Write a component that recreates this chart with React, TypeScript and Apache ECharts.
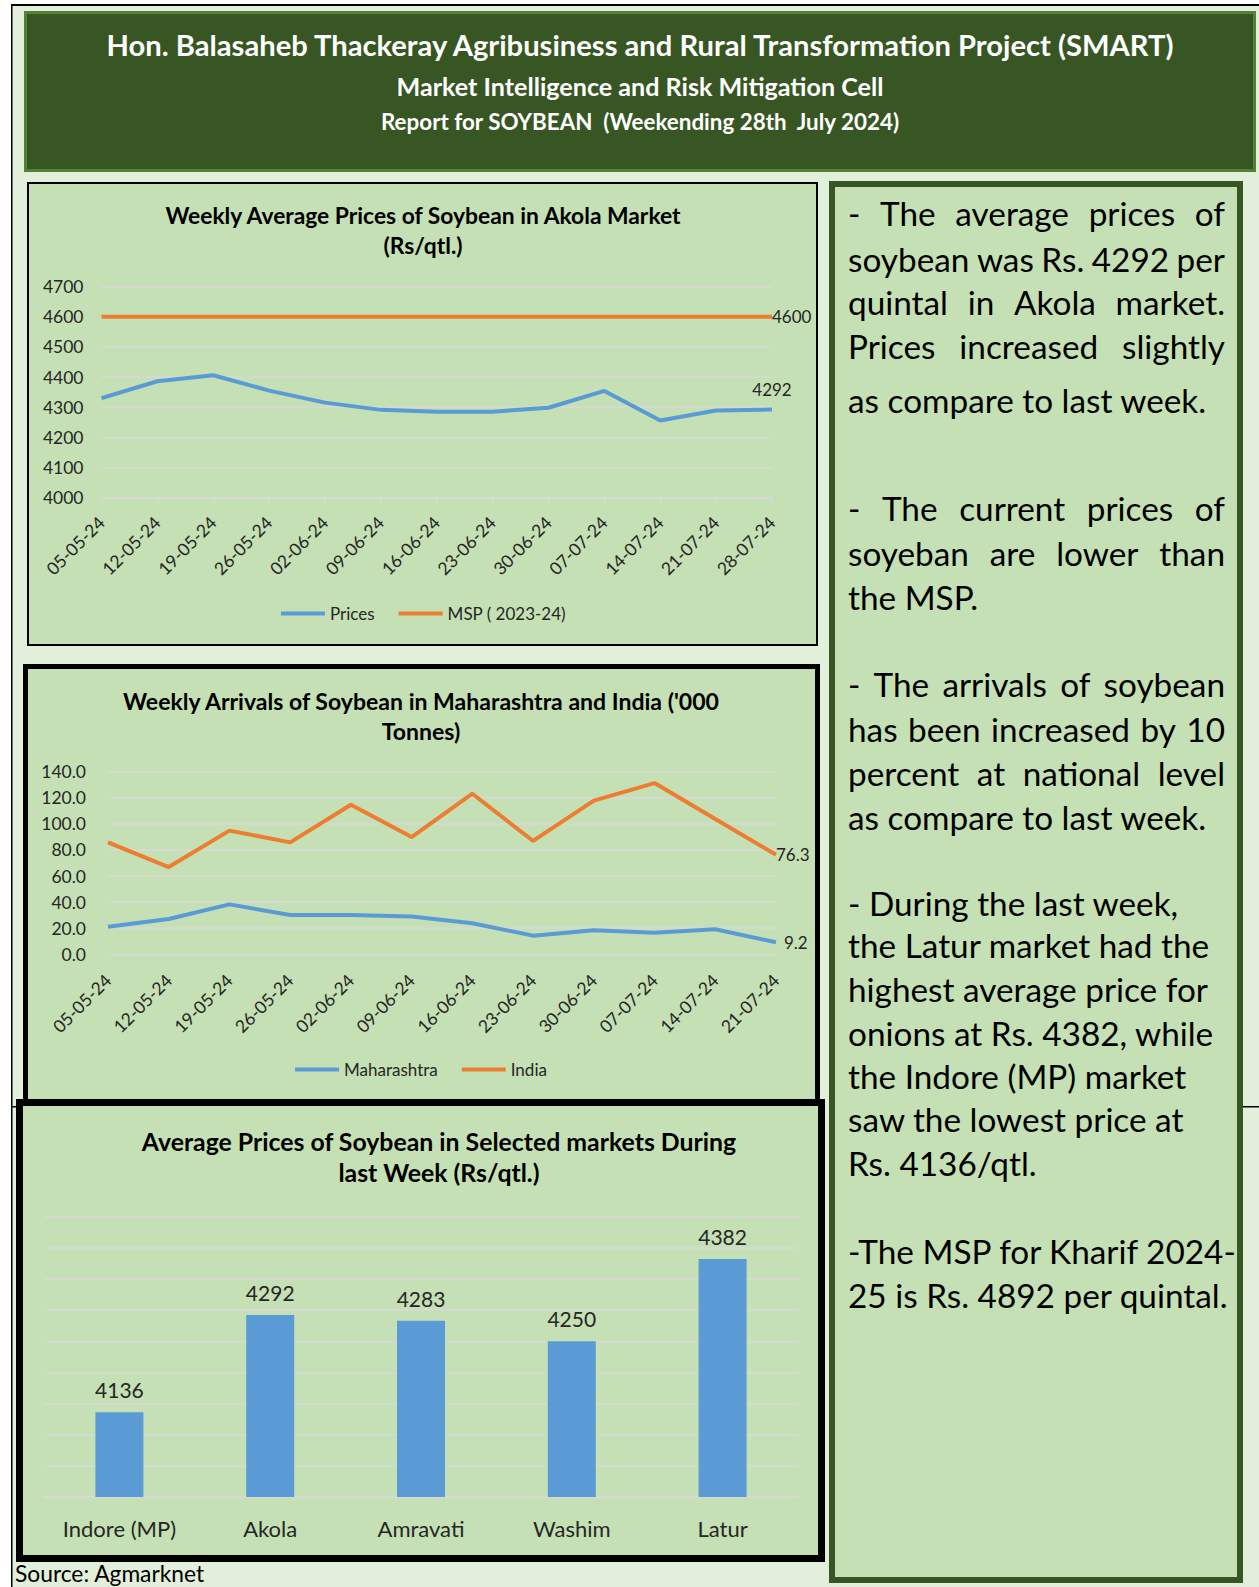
import React, { useEffect, useRef } from "react";
import * as echarts from "echarts";

// ---------- DATA ----------
const priceWeeks = ["05-05-24", "12-05-24", "19-05-24", "26-05-24", "02-06-24", "09-06-24", "16-06-24", "23-06-24", "30-06-24", "07-07-24", "14-07-24", "21-07-24", "28-07-24"];
const akolaPrices = [4330, 4386, 4406, 4355, 4315, 4291, 4285, 4285, 4298, 4354, 4256, 4289, 4292];
const mspPrices = [4600, 4600, 4600, 4600, 4600, 4600, 4600, 4600, 4600, 4600, 4600, 4600, 4600];

const arrivalWeeks = ["05-05-24", "12-05-24", "19-05-24", "26-05-24", "02-06-24", "09-06-24", "16-06-24", "23-06-24", "30-06-24", "07-07-24", "14-07-24", "21-07-24"];
const maharashtraArrivals = [21.2, 27.1, 38.3, 30.1, 30.1, 28.9, 23.8, 14.3, 18.4, 16.6, 19.2, 9.2];
const indiaArrivals = [85.8, 66.9, 94.8, 85.8, 114.7, 89.9, 123.1, 86.9, 117.8, 131.3, 103.7, 76.3];

const markets = ["Indore (MP)", "Akola", "Amravati", "Washim", "Latur"];
const marketPrices = [4136, 4292, 4283, 4250, 4382];

const headerLines = [
  "Hon. Balasaheb Thackeray Agribusiness and Rural Transformation Project (SMART)",
  "Market Intelligence and Risk Mitigation Cell",
  "Report for SOYBEAN  (Weekending 28th  July 2024)",
];
const chart1Title = ["Weekly Average Prices of Soybean in Akola Market", "(Rs/qtl.)"];
const chart2Title = ["Weekly Arrivals of Soybean in Maharashtra and India ('000", "Tonnes)"];
const chart3Title = ["Average Prices of Soybean in Selected markets During", "last Week (Rs/qtl.)"];
const noteParagraphs = [
  ["- The average prices of", "soybean was Rs. 4292 per", "quintal in Akola market.", "Prices increased slightly", "as compare to last week."],
  ["- The current prices of", "soyeban are lower than", "the MSP."],
  ["- The arrivals of soybean", "has been increased by 10", "percent at national level", "as compare to last week."],
  ["- During the last week,", "the Latur market had the", "highest average price for", "onions at Rs. 4382, while", "the Indore (MP) market", "saw the lowest price at", "Rs. 4136/qtl."],
  ["-The MSP for Kharif 2024-", "25 is Rs. 4892 per quintal."],
];
const sourceText = "Source: Agmarknet";

// ---------- LAYOUT / STYLE ----------
const FONT = "Lato";
const BLUE = "#5b9bd5";
const ORANGE = "#ed7d31";
const PANEL = "#c5e0b4";
const PAGE = "#e2efda";
const DARK = "#375623";
const GRID = "#d9d9d9";
const LABEL = "#262626";

const noteJustify = [true, true, true, false, false];
const noteLineY = [
  [213, 258.5, 302, 345.5, 399.5],
  [507.5, 553, 596.5],
  [683.5, 728.5, 773, 816.5],
  [902.5, 945, 989, 1033, 1076, 1119, 1163],
  [1251, 1295],
];

let measureCtx: CanvasRenderingContext2D | null = null;
function textWidth(t: string, size: number, weight = "normal") {
  if (!measureCtx) measureCtx = document.createElement("canvas").getContext("2d");
  measureCtx!.font = `${weight} ${size}px ${FONT}`;
  return measureCtx!.measureText(t).width;
}
function fitSize(t: string, target: number, weight = "normal") {
  return (target / textWidth(t, 100, weight)) * 100;
}

function txt(text: string, x: number, y: number, size: number, opts: any = {}) {
  return {
    type: "text",
    x,
    y,
    z: 100,
    silent: true,
    style: {
      text,
      fill: opts.fill || "#000",
      fontSize: size,
      fontFamily: FONT,
      fontWeight: opts.weight || "normal",
      align: opts.align || "left",
      textAlign: opts.align || "left",
      verticalAlign: "middle",
      textVerticalAlign: "middle",
    },
  };
}

function buildGraphics() {
  const g: any[] = [];
  // page
  g.push({ type: "rect", z: -20, silent: true, shape: { x: 12, y: 6, width: 1247, height: 1581 }, style: { fill: PAGE } });
  g.push({ type: "rect", z: -19, silent: true, shape: { x: 11, y: 4, width: 1248, height: 2 }, style: { fill: "#000" } });
  g.push({ type: "rect", z: -19, silent: true, shape: { x: 11, y: 4, width: 1.5, height: 1583 }, style: { fill: "#000" } });
  g.push({ type: "rect", z: -19, silent: true, shape: { x: 11, y: 1106, width: 8, height: 1.5 }, style: { fill: "#000" } });
  g.push({ type: "rect", z: -19, silent: true, shape: { x: 1240, y: 1106, width: 19, height: 1.5 }, style: { fill: "#000" } });

  // header
  g.push({ type: "rect", z: -10, silent: true, shape: { x: 25.5, y: 12.5, width: 1229, height: 158 }, style: { fill: DARK, stroke: "#548235", lineWidth: 3 } });
  const hW = [1071, 487, 520];
  const hY = [44, 86, 121];
  headerLines.forEach((l, i) => {
    g.push(txt(l, 640, hY[i], fitSize(l, hW[i], "bold"), { weight: "bold", fill: "#fff", align: "center" }));
  });

  // chart panels
  g.push({ type: "rect", z: -10, silent: true, shape: { x: 28, y: 183, width: 789, height: 462 }, style: { fill: PANEL, stroke: "#000", lineWidth: 2 } });
  g.push({ type: "rect", z: -10, silent: true, shape: { x: 25.5, y: 666.5, width: 792, height: 435 }, style: { fill: PANEL, stroke: "#000", lineWidth: 5 } });
  g.push({ type: "rect", z: -9, silent: true, shape: { x: 19.5, y: 1102.5, width: 802, height: 456 }, style: { fill: PANEL, stroke: "#000", lineWidth: 7 } });

  // titles
  const t1 = fitSize(chart1Title[0], 518, "bold");
  g.push(txt(chart1Title[0], 423, 215, t1, { weight: "bold", align: "center" }));
  g.push(txt(chart1Title[1], 423, 245, t1, { weight: "bold", align: "center" }));
  const t2 = fitSize(chart2Title[0], 598, "bold");
  g.push(txt(chart2Title[0], 421, 701, t2, { weight: "bold", align: "center" }));
  g.push(txt(chart2Title[1], 421, 731, t2, { weight: "bold", align: "center" }));
  const t3 = fitSize(chart3Title[0], 595, "bold");
  g.push(txt(chart3Title[0], 439, 1141, t3, { weight: "bold", align: "center" }));
  g.push(txt(chart3Title[1], 439, 1172, t3, { weight: "bold", align: "center" }));

  // source
  g.push(txt(sourceText, 15, 1573, fitSize(sourceText, 190)));

  // notes box
  g.push({ type: "rect", z: -10, silent: true, shape: { x: 832, y: 184, width: 408, height: 1396 }, style: { fill: PANEL, stroke: DARK, lineWidth: 6 } });
  const ns = fitSize("the Latur market had the", 362);
  const L = 848;
  const R = 1225;
  noteParagraphs.forEach((para, pi) => {
    para.forEach((line, li) => {
      const y = noteLineY[pi][li];
      const justify = noteJustify[pi] && li < para.length - 1;
      if (!justify) {
        g.push(txt(line, L, y, ns));
      } else {
        const words = line.split(/\s+/);
        const widths = words.map((w) => textWidth(w, ns));
        const total = widths.reduce((a, b) => a + b, 0);
        const gap = (R - L - total) / (words.length - 1);
        let x = L;
        words.forEach((w, wi) => {
          g.push(txt(w, x, y, ns));
          x += widths[wi] + gap;
        });
      }
    });
  });
  return g;
}

export default function App() {
  const ref = useRef<HTMLDivElement>(null);
  useEffect(() => {
    if (!ref.current) return;
    const chart = echarts.init(ref.current, null, { renderer: "svg" });
    const axisFont = 17.5;
    const legendBase = {
      icon: "rect",
      itemWidth: 44,
      itemHeight: 4,
      itemGap: 24,
      textStyle: { fontFamily: FONT, fontSize: 17, color: LABEL },
    };
    const option: any = {
      animation: false,
      backgroundColor: "#ffffff",
      textStyle: { fontFamily: FONT },
      graphic: { elements: buildGraphics() },
      legend: [
        { ...legendBase, left: 276, top: 600, data: ["Prices", "MSP ( 2023-24)"] },
        { ...legendBase, left: 290, top: 1056, data: ["Maharashtra", "India"] },
      ],
      grid: [
        { left: 101.5, top: 286.7, width: 670.5, height: 210.8 },
        { left: 108, top: 771.7, width: 668, height: 182.6 },
        { left: 44, top: 1216.7, width: 754, height: 280.3 },
      ],
      xAxis: [
        {
          gridIndex: 0,
          type: "category",
          data: priceWeeks,
          boundaryGap: false,
          axisLine: { lineStyle: { color: GRID, width: 1.5 } },
          axisTick: { show: true, length: 6, lineStyle: { color: GRID, width: 1.5 } },
          axisLabel: { rotate: 45, margin: 22, fontSize: axisFont, color: LABEL, fontFamily: FONT, interval: 0 },
        },
        {
          gridIndex: 1,
          type: "category",
          data: arrivalWeeks,
          boundaryGap: false,
          axisLine: { show: false },
          axisTick: { show: false },
          axisLabel: { rotate: 45, margin: 23, fontSize: axisFont, color: LABEL, fontFamily: FONT, interval: 0 },
        },
        {
          gridIndex: 2,
          type: "category",
          data: markets,
          axisLine: { lineStyle: { color: GRID, width: 1.5 } },
          axisTick: { show: false },
          axisLabel: { margin: 20, fontSize: 22, color: LABEL, fontFamily: FONT, interval: 0 },
        },
      ],
      yAxis: [
        {
          gridIndex: 0,
          type: "value",
          min: 4000,
          max: 4700,
          interval: 100,
          axisLine: { show: false },
          axisTick: { show: false },
          axisLabel: { margin: 18, fontSize: axisFont, color: LABEL, fontFamily: FONT, formatter: (v: number) => String(v) },
          splitLine: { lineStyle: { color: GRID, width: 1.5 } },
        },
        {
          gridIndex: 1,
          type: "value",
          min: 0,
          max: 140,
          interval: 20,
          axisLine: { show: false },
          axisTick: { show: false },
          axisLabel: { margin: 22, fontSize: axisFont, color: LABEL, fontFamily: FONT, formatter: (v: number) => v.toFixed(1) },
          splitLine: { lineStyle: { color: GRID, width: 1.5 } },
        },
        {
          gridIndex: 2,
          type: "value",
          min: 4000,
          max: 4450,
          interval: 50,
          axisLine: { show: false },
          axisTick: { show: false },
          axisLabel: { show: false },
          splitLine: { lineStyle: { color: GRID, width: 1.5 } },
        },
      ],
      series: [
        {
          name: "Prices",
          type: "line",
          xAxisIndex: 0,
          yAxisIndex: 0,
          data: akolaPrices,
          symbol: "none",
          color: BLUE,
          lineStyle: { color: BLUE, width: 4 },
          endLabel: {
            show: true,
            formatter: (p: any) => String(p.value),
            fontSize: 17,
            fontFamily: FONT,
            color: LABEL,
            distance: 0,
            align: "center",
            verticalAlign: "bottom",
            offset: [0, -12],
          },
          z: 3,
        },
        {
          name: "MSP ( 2023-24)",
          type: "line",
          xAxisIndex: 0,
          yAxisIndex: 0,
          data: mspPrices,
          symbol: "none",
          color: ORANGE,
          lineStyle: { color: ORANGE, width: 4 },
          endLabel: { show: true, formatter: (p: any) => String(p.value), fontSize: 17, fontFamily: FONT, color: LABEL, distance: 0 },
        },
        {
          name: "Maharashtra",
          type: "line",
          xAxisIndex: 1,
          yAxisIndex: 1,
          data: maharashtraArrivals,
          symbol: "none",
          color: BLUE,
          lineStyle: { color: BLUE, width: 4 },
          endLabel: { show: true, formatter: (p: any) => Number(p.value).toFixed(1), fontSize: 17, fontFamily: FONT, color: LABEL, distance: 8 },
        },
        {
          name: "India",
          type: "line",
          xAxisIndex: 1,
          yAxisIndex: 1,
          data: indiaArrivals,
          symbol: "none",
          color: ORANGE,
          lineStyle: { color: ORANGE, width: 4 },
          endLabel: { show: true, formatter: (p: any) => Number(p.value).toFixed(1), fontSize: 17, fontFamily: FONT, color: LABEL, distance: 0 },
        },
        {
          name: "Average Price",
          type: "bar",
          xAxisIndex: 2,
          yAxisIndex: 2,
          data: marketPrices,
          barWidth: 48,
          itemStyle: { color: BLUE },
          label: { show: true, position: "top", distance: 12, fontSize: 21, fontFamily: FONT, color: LABEL },
        },
      ],
    };
    chart.setOption(option);
    return () => chart.dispose();
  }, []);
  return <div ref={ref} style={{ position: "absolute", left: 0, top: 0, width: 1259, height: 1587 }} />;
}
